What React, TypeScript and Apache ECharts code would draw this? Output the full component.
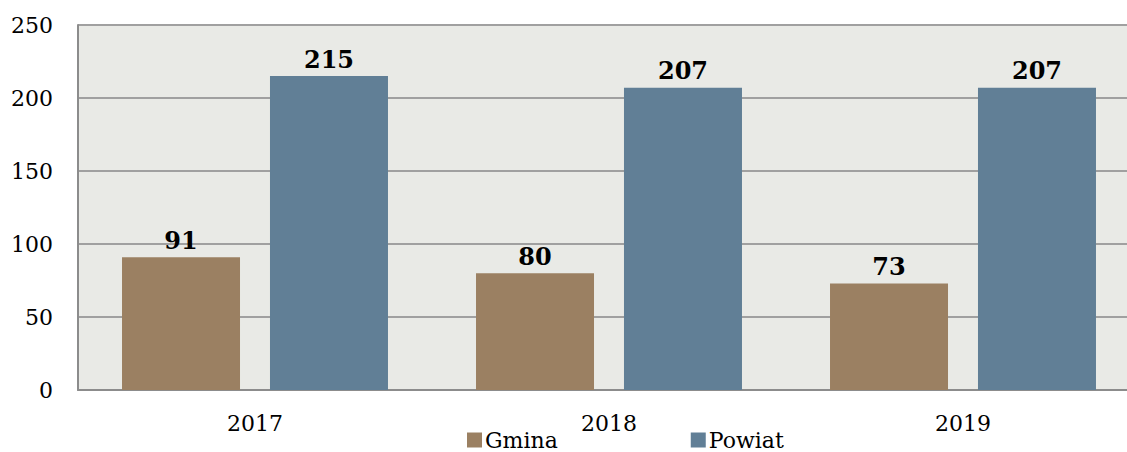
import React, { useEffect, useRef } from "react";
import * as echarts from "echarts";

const categories = ["2017", "2018", "2019"];
const gminaValues = [91, 80, 73];
const powiatValues = [215, 207, 207];
const seriesNames = ["Gmina", "Powiat"];

const FONT = "DejaVu Serif";

export default function App() {
  const ref = useRef<HTMLDivElement>(null);
  useEffect(() => {
    document.body.style.margin = "0";
    const chart = echarts.init(ref.current!, null, { renderer: "svg" });
    const labelStyle = {
      show: true,
      position: "top" as const,
      distance: 5,
      fontFamily: FONT,
      fontWeight: "bold" as const,
      fontSize: 24,
      color: "#000",
    };
    chart.setOption({
      animation: false,
      backgroundColor: "#ffffff",
      grid: {
        left: 78,
        right: 6,
        top: 25,
        bottom: 62,
        show: true,
        backgroundColor: "#e9eae6",
        borderWidth: 0,
      },
      legend: {
        left: 467,
        top: 429,
        padding: 0,
        itemWidth: 15,
        itemHeight: 15,
        itemGap: 133,
        icon: "rect",
        textStyle: {
          fontFamily: FONT,
          fontSize: 22,
          lineHeight: 18,
          color: "#000",
          padding: [0, 0, 0, -2],
        },
        data: seriesNames,
      },
      xAxis: {
        type: "category",
        data: categories,
        axisLine: { show: true, lineStyle: { color: "#8c8c8c", width: 2 } },
        axisTick: { show: false },
        axisLabel: { fontFamily: FONT, fontSize: 22, color: "#000", margin: 22 },
      },
      yAxis: {
        type: "value",
        min: 0,
        max: 250,
        interval: 50,
        axisLine: { show: true, lineStyle: { color: "#8c8c8c", width: 2 } },
        axisTick: { show: false },
        splitLine: { lineStyle: { color: "#a0a0a0", width: 2 } },
        axisLabel: { fontFamily: FONT, fontSize: 22, color: "#000", margin: 25 },
      },
      series: [
        {
          name: seriesNames[0],
          type: "bar",
          data: gminaValues,
          barWidth: 118,
          barGap: "25.4%",
          itemStyle: { color: "#9b8062" },
          label: labelStyle,
        },
        {
          name: seriesNames[1],
          type: "bar",
          data: powiatValues,
          barWidth: 118,
          itemStyle: { color: "#617f96" },
          label: labelStyle,
        },
      ],
    });
    return () => chart.dispose();
  }, []);
  return (
    <div style={{ width: 1127, height: 452, overflow: "hidden", position: "relative" }}>
      <div ref={ref} style={{ width: 1146, height: 452 }} />
    </div>
  );
}
